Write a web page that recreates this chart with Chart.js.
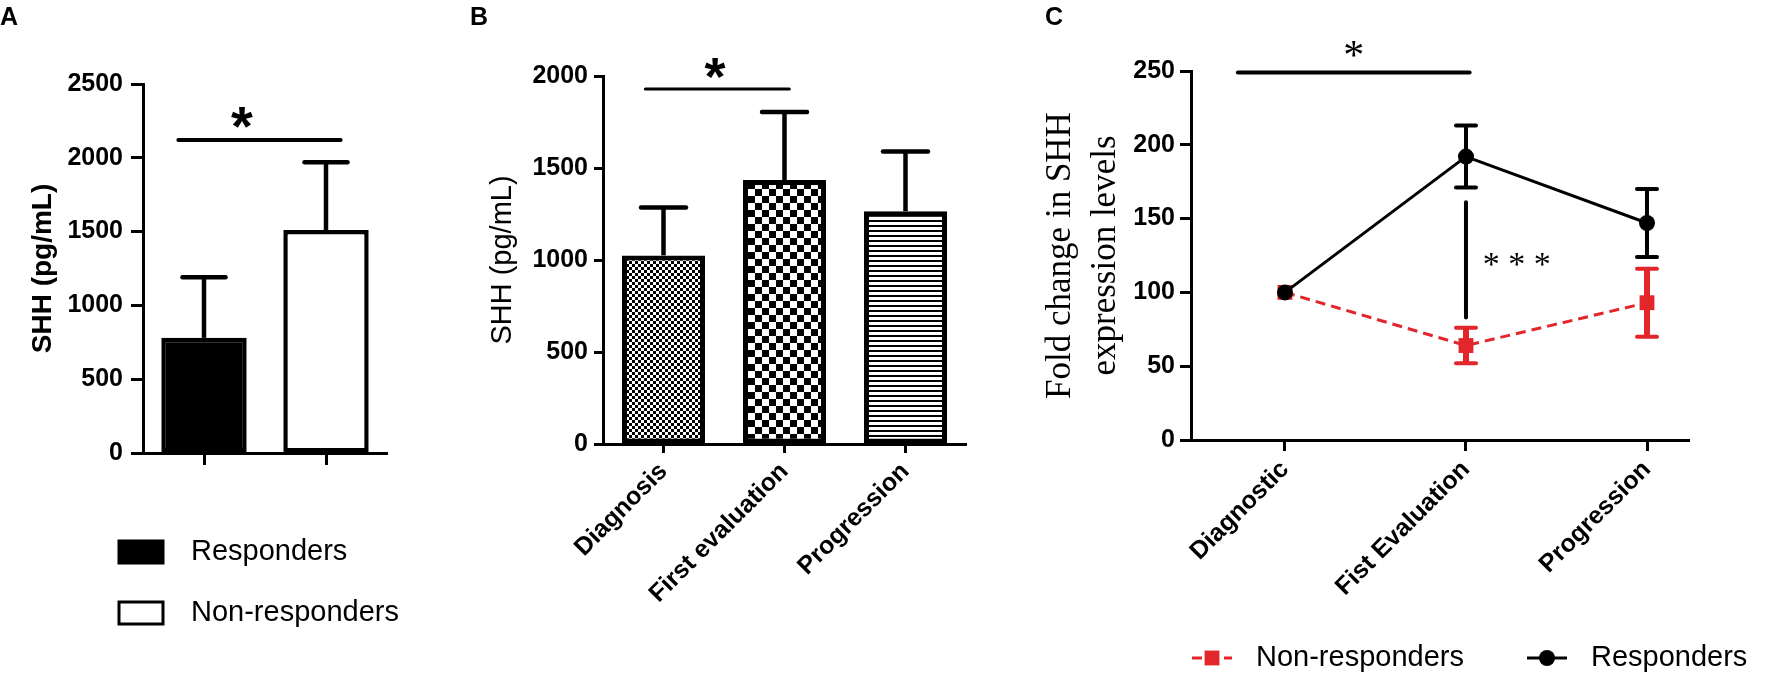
<!DOCTYPE html>
<html>
<head>
<meta charset="utf-8">
<title>SHH levels</title>
<script src="https://cdn.jsdelivr.net/npm/chart.js@4.4.1/dist/chart.umd.min.js"></script>
<style>
  html, body { margin: 0; padding: 0; background: #fff; }
  #fig { position: relative; width: 1772px; height: 700px; overflow: hidden; }
  .panel { position: absolute; top: 0; height: 700px; }
</style>
</head>
<body>
<div id="fig">
  <div class="panel" style="left:0;width:440px"><canvas id="chartA"></canvas></div>
  <div class="panel" style="left:440px;width:540px"><canvas id="chartB"></canvas></div>
  <div class="panel" style="left:980px;width:792px"><canvas id="chartC"></canvas></div>
</div>
<script>
// panel A - responders vs non-responders
const groupsA = ['Responders', 'Non-responders'];
const meanA = [780, 1510];
const errA = [410, 460]; // upper error only
const ticksA = [0, 500, 1000, 1500, 2000, 2500];

// panel B - SHH by disease stage
const stagesB = ['Diagnosis', 'First evaluation', 'Progression'];
const meanB = [1025, 1435, 1265];
const errB = [260, 370, 325];
const ticksB = [0, 500, 1000, 1500, 2000];

// panel C - fold change
const stagesC = ['Diagnostic', 'Fist Evaluation', 'Progression'];
const nonRespC = [100, 64, 93];
const nonRespErrC = [0, 12, 23];
const respC = [100, 192, 147];
const respErrC = [0, 21, 23];
const ticksC = [0, 50, 100, 150, 200, 250];

// significance marks (data units)
const sigA = { from: -0.21, to: 1.12, y: 2120, text: '*', textX: 0.31, textY: 2276 };
const sigB = { from: -0.15, to: 1.04, y: 1930, text: '*', textX: 0.425, textY: 2039 };
const sigC = { from: -0.26, to: 1.02, y: 249, text: '*', textX: 0.38, textY: 264.6 };
const sigC2 = { x: 1, from: 161, to: 83, text: '* * *', textX: 1.28, textY: 122 };

const INK = '#000';
const RED = '#e3262b';
const SANS = "'Liberation Sans', Arial, sans-serif";
const SERIF = "'Liberation Serif', 'Times New Roman', serif";

Chart.defaults.font.family = SANS;
Chart.defaults.color = INK;
Chart.defaults.animation = false;
Chart.defaults.plugins.legend.display = false;
Chart.defaults.plugins.tooltip.enabled = false;

const fixedWidth = w => s => { s.width = w; };
const fixedHeight = h => s => { s.height = h; };

function stroke(ctx, x1, y1, x2, y2, w, color, cap) {
  ctx.save();
  ctx.strokeStyle = color || INK;
  ctx.lineWidth = w;
  ctx.lineCap = cap || 'round';
  ctx.beginPath();
  ctx.moveTo(x1, y1);
  ctx.lineTo(x2, y2);
  ctx.stroke();
  ctx.restore();
}

// draw text with its ink box centred on (x, y)
function glyph(ctx, text, x, y, font) {
  ctx.save();
  ctx.font = font;
  ctx.fillStyle = INK;
  ctx.textAlign = 'center';
  ctx.textBaseline = 'alphabetic';
  const m = ctx.measureText(text);
  ctx.fillText(text, x, y + (m.actualBoundingBoxAscent - m.actualBoundingBoxDescent) / 2);
  ctx.restore();
}

function tile(size, draw) {
  const c = document.createElement('canvas');
  c.width = c.height = size;
  const g = c.getContext('2d');
  g.fillStyle = '#fff';
  g.fillRect(0, 0, size, size);
  g.fillStyle = '#000';
  draw(g);
  return g.createPattern(c, 'repeat');
}
const fineChecker = tile(6, g => { g.fillRect(0, 0, 3, 3); g.fillRect(3, 3, 3, 3); });
const coarseChecker = tile(14, g => { g.fillRect(0, 0, 7, 7); g.fillRect(7, 7, 7, 7); });
const hStripes = tile(5, g => g.fillRect(0, 0, 5, 2));

const panelLetter = (letter, x, y) => ({
  id: 'letter' + letter,
  afterDraw(chart) {
    const ctx = chart.ctx;
    ctx.save();
    ctx.font = 'bold 25px ' + SANS;
    ctx.fillStyle = INK;
    ctx.textBaseline = 'alphabetic';
    ctx.fillText(letter, x, y);
    ctx.restore();
  }
});

const barErrors = (errs, capW, lw) => ({
  id: 'barErrors',
  afterDatasetsDraw(chart) {
    const { ctx, scales: { y } } = chart;
    const values = chart.data.datasets[0].data;
    chart.getDatasetMeta(0).data.forEach((bar, i) => {
      const top = y.getPixelForValue(values[i] + errs[i]);
      stroke(ctx, bar.x, bar.y, bar.x, top, lw, INK, 'butt');
      stroke(ctx, bar.x - capW / 2, top, bar.x + capW / 2, top, lw, INK, 'round');
    });
  }
});

const sigLine = (sig, lw, font) => ({
  id: 'sigLine',
  afterDraw(chart) {
    const { ctx, scales: { x, y } } = chart;
    const yy = y.getPixelForValue(sig.y);
    stroke(ctx, x.getPixelForValue(sig.from), yy, x.getPixelForValue(sig.to), yy, lw);
    glyph(ctx, sig.text, x.getPixelForValue(sig.textX), y.getPixelForValue(sig.textY), font);
  }
});

// ---------- A ----------
new Chart(document.getElementById('chartA'), {
  type: 'bar',
  data: {
    labels: groupsA,
    datasets: [{
      data: meanA,
      backgroundColor: ['#000', '#fff'],
      borderColor: INK,
      borderWidth: 4.5,
      borderSkipped: false,
      barPercentage: 0.7,
      categoryPercentage: 1
    }]
  },
  options: {
    responsive: true,
    maintainAspectRatio: false,
    layout: { padding: { left: 0, top: 84, right: 53, bottom: 0 } },
    scales: {
      x: {
        grid: { drawOnChartArea: false, offset: false, tickLength: 12, tickWidth: 3, tickColor: INK },
        border: { color: INK, width: 3 },
        ticks: { display: false },
        afterFit: fixedHeight(247)
      },
      y: {
        min: ticksA[0],
        max: ticksA[ticksA.length - 1],
        afterBuildTicks: s => { s.ticks = ticksA.map(v => ({ value: v })); },
        ticks: { padding: 8, font: { size: 25, weight: 'bold' }, callback: v => String(v) },
        grid: { drawOnChartArea: false, tickLength: 12, tickWidth: 3, tickColor: INK },
        border: { color: INK, width: 3 },
        title: { display: true, text: 'SHH (pg/mL)', font: { size: 28, weight: 'bold' }, padding: { top: 26 } },
        afterFit: fixedWidth(143)
      }
    }
  },
  plugins: [
    barErrors(errA, 43, 4.5),
    sigLine(sigA, 4, 'bold 56px ' + SANS),
    panelLetter('A', 0, 25),
    {
      id: 'legendA',
      afterDraw(chart) {
        const ctx = chart.ctx;
        const fills = chart.data.datasets[0].backgroundColor;
        chart.data.labels.forEach((label, i) => {
          const cy = 552 + i * 61;
          ctx.save();
          ctx.fillStyle = fills[i];
          ctx.fillRect(119, cy - 11, 44, 22);
          ctx.strokeStyle = INK;
          ctx.lineWidth = 3;
          ctx.strokeRect(119, cy - 11, 44, 22);
          ctx.font = '29px ' + SANS;
          ctx.fillStyle = INK;
          ctx.textBaseline = 'middle';
          ctx.fillText(label, 191, cy);
          ctx.restore();
        });
      }
    }
  ]
});

// ---------- B ----------
new Chart(document.getElementById('chartB'), {
  type: 'bar',
  data: {
    labels: stagesB,
    datasets: [{
      data: meanB,
      backgroundColor: [fineChecker, coarseChecker, hStripes],
      borderColor: INK,
      borderWidth: 5,
      borderSkipped: false,
      barPercentage: 0.686,
      categoryPercentage: 1
    }]
  },
  options: {
    responsive: true,
    maintainAspectRatio: false,
    layout: { padding: { left: 0, top: 76, right: 14, bottom: 0 } },
    scales: {
      x: {
        grid: { drawOnChartArea: false, offset: false, tickLength: 9, tickWidth: 3, tickColor: INK },
        border: { color: INK, width: 3 },
        ticks: { autoSkip: false, minRotation: 45, maxRotation: 45, padding: 4, font: { size: 25, weight: 'bold' } },
        afterFit: fixedHeight(256)
      },
      y: {
        min: ticksB[0],
        max: ticksB[ticksB.length - 1],
        afterBuildTicks: s => { s.ticks = ticksB.map(v => ({ value: v })); },
        ticks: { padding: 6, font: { size: 25, weight: 'bold' }, callback: v => String(v) },
        grid: { drawOnChartArea: false, tickLength: 9, tickWidth: 3, tickColor: INK },
        border: { color: INK, width: 3 },
        title: { display: true, text: 'SHH (pg/mL)', font: { size: 29, weight: 'normal' }, padding: { top: 46 } },
        afterFit: fixedWidth(163)
      }
    }
  },
  plugins: [
    barErrors(errB, 45, 4.5),
    sigLine(sigB, 3, 'bold 54px ' + SANS),
    panelLetter('B', 30, 25)
  ]
});

// ---------- C ----------
const pointErrors = {
  id: 'pointErrors',
  beforeDatasetsDraw(chart) {
    const { ctx, scales: { x, y } } = chart;
    chart.data.datasets.forEach(ds => {
      ds.data.forEach((p, i) => {
        const e = ds.errors[i];
        if (!e) return;
        const px = x.getPixelForValue(p.x);
        const hi = y.getPixelForValue(p.y + e);
        const lo = y.getPixelForValue(p.y - e);
        stroke(ctx, px, hi, px, lo, ds.errorWidth, ds.borderColor, 'butt');
        stroke(ctx, px - 10, hi, px + 10, hi, 4, ds.borderColor, 'round');
        stroke(ctx, px - 10, lo, px + 10, lo, 4, ds.borderColor, 'round');
      });
    });
  }
};

new Chart(document.getElementById('chartC'), {
  type: 'line',
  data: {
    datasets: [
      {
        label: 'Non-responders',
        data: nonRespC.map((v, i) => ({ x: i, y: v })),
        errors: nonRespErrC,
        errorWidth: 6,
        borderColor: RED,
        backgroundColor: RED,
        borderWidth: 3,
        borderDash: [10, 6],
        pointStyle: 'rect',
        pointRadius: 10.5,
        pointBorderWidth: 0,
        order: 2
      },
      {
        label: 'Responders',
        data: respC.map((v, i) => ({ x: i, y: v })),
        errors: respErrC,
        errorWidth: 4,
        borderColor: INK,
        backgroundColor: INK,
        borderWidth: 3,
        pointStyle: 'circle',
        pointRadius: 8,
        pointBorderWidth: 0,
        order: 1
      }
    ]
  },
  options: {
    responsive: true,
    maintainAspectRatio: false,
    layout: { padding: { left: 0, top: 71, right: 83, bottom: 0 } },
    scales: {
      x: {
        type: 'linear',
        min: -0.519,
        max: 2.232,
        afterBuildTicks: s => { s.ticks = stagesC.map((_, i) => ({ value: i })); },
        grid: { drawOnChartArea: false, tickLength: 11, tickWidth: 3, tickColor: INK },
        border: { color: INK, width: 3 },
        ticks: { autoSkip: false, minRotation: 45, maxRotation: 45, padding: 4, font: { size: 25, weight: 'bold' },
                 callback: v => stagesC[v] ?? '' },
        afterFit: fixedHeight(260)
      },
      y: {
        min: ticksC[0],
        max: ticksC[ticksC.length - 1],
        afterBuildTicks: s => { s.ticks = ticksC.map(v => ({ value: v })); },
        ticks: { padding: 5, font: { size: 25, weight: 'bold' }, callback: v => String(v) },
        grid: { drawOnChartArea: false, tickLength: 11, tickWidth: 3, tickColor: INK },
        border: { color: INK, width: 3 },
        title: {
          display: true,
          text: ['Fold change in SHH', 'expression levels'],
          font: { family: SERIF, size: 35, weight: 'normal', lineHeight: 1.27 },
          padding: { top: 59 }
        },
        afterFit: fixedWidth(211)
      }
    }
  },
  plugins: [
    pointErrors,
    sigLine(sigC, 4, '42px ' + SERIF),
    panelLetter('C', 65, 25),
    {
      id: 'bracketC',
      afterDraw(chart) {
        const { ctx, scales: { x, y } } = chart;
        const px = x.getPixelForValue(sigC2.x);
        stroke(ctx, px, y.getPixelForValue(sigC2.from), px, y.getPixelForValue(sigC2.to), 4);
        glyph(ctx, sigC2.text, x.getPixelForValue(sigC2.textX), y.getPixelForValue(sigC2.textY), '34px ' + SERIF);
      }
    },
    {
      id: 'legendC',
      afterDraw(chart) {
        const ctx = chart.ctx;
        const spots = [{ x: 212, tx: 276 }, { x: 547, tx: 611 }];
        const cy = 658;
        chart.data.datasets.forEach((ds, i) => {
          const { x, tx } = spots[i];
          ctx.save();
          ctx.strokeStyle = ds.borderColor;
          ctx.lineWidth = ds.borderWidth;
          ctx.setLineDash(ds.borderDash || []);
          ctx.beginPath();
          ctx.moveTo(x, cy);
          ctx.lineTo(x + 40, cy);
          ctx.stroke();
          ctx.setLineDash([]);
          ctx.fillStyle = ds.backgroundColor;
          Chart.helpers.drawPoint(ctx, { pointStyle: ds.pointStyle, radius: ds.pointRadius, borderWidth: 0, rotation: 0 }, x + 20, cy);
          ctx.font = '29px ' + SANS;
          ctx.fillStyle = INK;
          ctx.textBaseline = 'middle';
          ctx.fillText(ds.label, tx, cy);
          ctx.restore();
        });
      }
    }
  ]
});
</script>
</body>
</html>
